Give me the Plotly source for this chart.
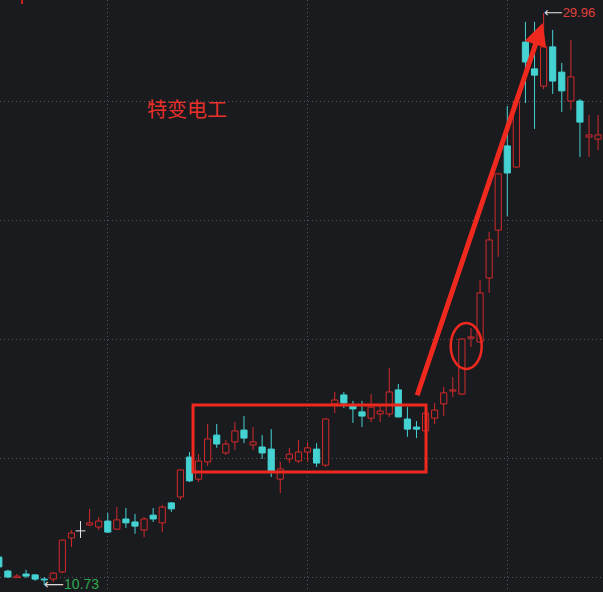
import plotly.graph_objects as go

# ---- data (daily candles) ----
opens = [11.67, 11.20, 10.98, 11.10, 11.07, 10.93, 10.93, 11.17, 12.31, 12.55,
         12.75, 12.68, 12.88, 12.61, 12.95, 12.85, 12.58, 13.08, 12.82, 13.49,
         13.69, 15.03, 14.29, 14.87, 15.77, 15.17, 15.54, 15.94, 15.44, 15.37,
         15.30, 14.29, 14.97, 14.90, 15.20, 15.30, 14.76, 16.82, 17.12, 16.75,
         16.55, 16.34, 16.48, 16.48, 17.29, 16.31, 16.04, 15.91, 16.34, 16.82,
         17.25, 17.15, 19.03, 18.90, 21.05, 22.66, 25.49, 24.78, 28.98, 28.08,
         27.50, 28.82, 27.97, 27.00, 27.00, 25.79, 25.72]
closes = [11.34, 11.00, 11.03, 11.03, 10.93, 10.90, 11.13, 12.24, 12.48, 12.55,
          12.82, 12.88, 12.51, 12.92, 12.82, 12.71, 12.95, 12.95, 13.35, 13.29,
          14.60, 14.23, 14.90, 15.64, 15.47, 15.47, 15.91, 15.67, 15.54, 15.17,
          14.56, 14.63, 15.13, 15.20, 15.34, 14.83, 16.31, 16.95, 16.85, 16.65,
          16.41, 16.71, 16.58, 17.22, 16.38, 15.97, 15.97, 16.51, 16.61, 17.19,
          17.29, 19.00, 19.07, 20.55, 22.33, 24.55, 24.58, 26.97, 28.31, 27.87,
          28.82, 27.67, 27.34, 27.81, 26.29, 25.86, 25.86]
highs = [11.81, 11.24, 11.10, 11.24, 11.10, 11.00, 11.17, 12.26, 12.58, 12.88,
         13.29, 13.02, 13.15, 13.35, 13.32, 13.12, 13.02, 13.32, 13.42, 13.52,
         14.62, 15.20, 15.13, 16.14, 16.14, 15.61, 16.21, 16.41, 16.04, 15.77,
         15.97, 14.87, 15.34, 15.61, 15.54, 15.50, 16.33, 17.22, 17.22, 16.92,
         16.92, 17.15, 16.75, 18.03, 17.49, 16.71, 16.24, 16.55, 16.85, 17.39,
         17.72, 19.02, 19.37, 20.98, 22.60, 24.57, 26.83, 26.99, 29.66, 29.66,
         29.96, 29.39, 28.28, 29.05, 27.07, 26.53, 26.53]
lows = [11.27, 10.97, 10.97, 10.97, 10.87, 10.73, 10.83, 11.13, 12.01, 12.31,
        12.71, 12.58, 12.48, 12.58, 12.65, 12.45, 12.34, 12.85, 12.51, 13.19,
        13.59, 14.19, 14.19, 14.73, 15.34, 15.10, 15.27, 15.50, 15.27, 14.97,
        14.36, 13.82, 14.83, 14.83, 14.87, 14.70, 14.70, 16.51, 16.68, 16.18,
        16.04, 16.21, 16.21, 16.38, 16.36, 15.71, 15.67, 15.87, 16.14, 16.41,
        17.05, 17.12, 18.73, 18.87, 20.55, 21.76, 23.13, 24.76, 26.93, 26.06,
        27.40, 27.24, 26.63, 26.70, 25.12, 25.12, 25.35]
grid_prices = [11, 15, 19, 23, 27]
grid_days = [12, 34, 56]
title_text = "特变电工"
high_label = "29.96"
low_label = "10.73"

# ---- styles ----
BG = "#1a1b1f"
RED = "#d42a2a"
CYAN = "#45d2d2"
FLAT = "#e8e8e8"
MARK = "#f0291f"
GRID = "#55565b"

idx = list(range(len(opens)))
up = [i for i in idx if closes[i] > opens[i]]
down = [i for i in idx if closes[i] < opens[i]]
flat = [i for i in idx if closes[i] == opens[i]]


def wick_xy(group):
    xs, ys = [], []
    for i in group:
        lo_b = min(opens[i], closes[i])
        hi_b = max(opens[i], closes[i])
        xs += [i, i, None, i, i, None]
        ys += [lows[i], lo_b, None, hi_b, highs[i], None]
    return xs, ys


fig = go.Figure()

# bodies
fig.add_trace(go.Bar(
    x=up, base=[opens[i] for i in up], y=[closes[i] - opens[i] for i in up],
    width=0.68, marker=dict(color=BG, line=dict(color=RED, width=1)),
    hoverinfo="skip"))
fig.add_trace(go.Bar(
    x=down, base=[closes[i] for i in down], y=[opens[i] - closes[i] for i in down],
    width=0.68, marker=dict(color=CYAN, line=dict(color=CYAN, width=1)),
    hoverinfo="skip"))

# wicks
for grp, col in ((up, RED), (down, CYAN), (flat, FLAT)):
    wx, wy = wick_xy(grp)
    fig.add_trace(go.Scatter(x=wx, y=wy, mode="lines",
                             line=dict(color=col, width=1), hoverinfo="skip"))

# flat (doji) bodies
fig.add_trace(go.Scatter(
    x=flat, y=[opens[i] for i in flat], mode="markers",
    marker=dict(symbol="line-ew", size=7, line=dict(color=FLAT, width=1)),
    hoverinfo="skip"))

i_hi = highs.index(max(highs))
i_lo = lows.index(min(lows))

ARROW = "<span style='color:#d8d8d8;font-family:DejaVu Sans'>⟵</span>"

fig.update_layout(
    width=603, height=592,
    margin=dict(l=0, r=0, t=0, b=0),
    paper_bgcolor=BG, plot_bgcolor=BG,
    showlegend=False, barmode="overlay",
    xaxis=dict(range=[0.132, 66.54], tickvals=grid_days, showticklabels=False,
               ticks="", showgrid=True, gridcolor=GRID, griddash="1px,3px",
               gridwidth=1, zeroline=False, showline=False),
    yaxis=dict(range=[10.496, 30.395], tickvals=grid_prices, showticklabels=False,
               ticks="", showgrid=True, gridcolor=GRID, griddash="1px,3px",
               gridwidth=1, zeroline=False, showline=False),
    annotations=[
        dict(xref="paper", yref="paper", x=145 / 603, y=1 - 109 / 592,
             xanchor="left", yanchor="middle", showarrow=False,
             text=title_text,
             font=dict(family="Noto Sans CJK SC", size=20, color="#e8302a")),
        dict(x=i_hi, y=highs[i_hi], xanchor="left", yanchor="middle",
             showarrow=False, xshift=-2,
             text=ARROW + "<span style='color:#e0403c'>" + high_label + "</span>",
             font=dict(family="Liberation Sans", size=13)),
        dict(x=i_lo, y=lows[i_lo], xanchor="left", yanchor="middle",
             showarrow=False, xshift=-2, yshift=1,
             text=ARROW + "<span style='color:#2ea84e'>" + low_label + "</span>",
             font=dict(family="Liberation Sans", size=14)),
        dict(x=59.9, y=29.62, ax=46.02, ay=17.06, axref="x", ayref="y",
             showarrow=True, arrowhead=2, arrowsize=0.9, arrowwidth=5,
             arrowcolor=MARK, text="", standoff=0),
    ],
    shapes=[
        dict(type="rect", xref="x", yref="y", x0=21.39, x1=47.05, y0=14.53, y1=16.78,
             line=dict(color=MARK, width=3)),
        dict(type="circle", xref="x", yref="y", x0=49.77, x1=53.18, y0=17.99, y1=19.54,
             line=dict(color=MARK, width=2.5)),
        dict(type="line", xref="paper", yref="paper", x0=22 / 603, x1=22 / 603,
             y0=1, y1=1 - 4 / 592, line=dict(color="#c81e1e", width=2)),
    ],
)

fig.write_html(
    "out.html",
    config={"displayModeBar": False},
    post_script="document.body.style.margin='0';document.body.style.overflow='hidden';",
)
